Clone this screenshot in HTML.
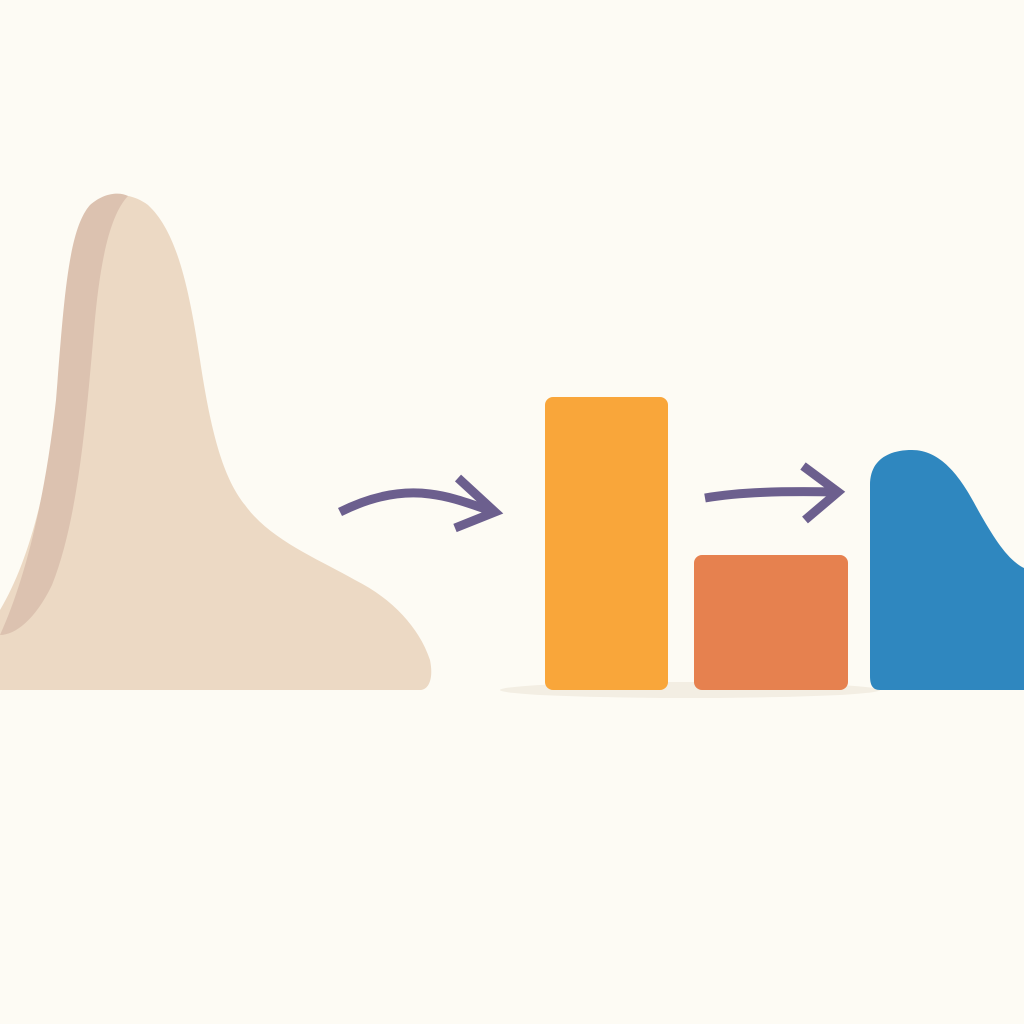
<!DOCTYPE html>
<html><head><meta charset="utf-8">
<style>
html,body{margin:0;padding:0;background:#fdfbf4;}
svg{display:block;}
</style></head>
<body>
<svg id="chart" width="1024" height="1024" viewBox="0 0 1024 1024">
  <rect width="1024" height="1024" fill="#fdfbf4"/>
  <ellipse cx="690" cy="690" rx="190" ry="8" fill="#f3eee3"/>
  <g>
    <path d="M0,690 L0,610 C30,560 50,480 60,380 C68,290 72,230 95,205 C110,192 130,192 148,205 C175,230 188,280 200,360 C212,440 225,480 245,505 C270,540 320,560 355,580 C395,600 420,630 430,660 C434,680 428,690 420,690 Z" fill="#ecd9c4"/>
    <path d="M0,635 C25,580 45,500 56,400 C64,300 68,230 90,205 C105,192 120,192 128,196 C110,215 100,260 94,330 C86,420 78,520 52,585 C35,620 15,635 0,635 Z" fill="#dcc2b0"/>
  </g>
  <g fill="none" stroke="#6c5f8e" stroke-width="9">
    <path d="M340,512 C370,497 400,490 430,494 C455,497 475,506 495,512"/>
    <path d="M458,478 L495,512 L455,528"/>
  </g>
  <g fill="none" stroke="#6c5f8e" stroke-width="9">
    <path d="M705,498 C740,492 780,491 838,492"/>
    <path d="M803,466 L838,492 L805,520"/>
  </g>
  <g id="bars"></g>
  <g>
    <path d="M880,690 C872,690 870,684 870,676 L870,485 C870,460 888,450 912,450 C940,450 960,475 978,510 C995,540 1008,560 1024,568 L1024,690 Z" fill="#2f87bf"/>
  </g>
</svg>
<script>
const barNames = ['bar-orange','bar-red-orange'];
const barValues = [293, 135];
const barX = [545, 694];
const barW = [123, 154];
const barColors = ['#f9a63a','#e6814f'];
const baseY = 690;
function y(v){ return baseY - v; }
const g = document.getElementById('bars');
const NS = 'http://www.w3.org/2000/svg';
for (let i = 0; i < barValues.length; i++) {
  const r = document.createElementNS(NS, 'rect');
  r.setAttribute('x', barX[i]);
  r.setAttribute('y', y(barValues[i]));
  r.setAttribute('width', barW[i]);
  r.setAttribute('height', baseY - y(barValues[i]));
  r.setAttribute('rx', 8);
  r.setAttribute('fill', barColors[i]);
  
  
  g.appendChild(r);
}
</script>
</body></html>
